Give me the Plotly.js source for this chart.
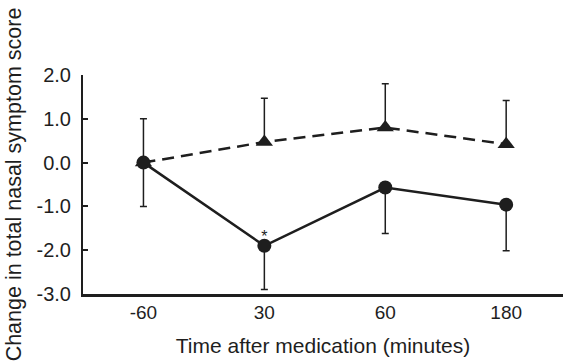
<!DOCTYPE html>
<html>
<head>
<meta charset="utf-8">
<script src="https://cdn.plot.ly/plotly-3.0.1.min.js"></script>
<style>html,body{margin:0;padding:0;background:#fff;}#chart{width:565px;height:361px;}</style>
</head>
<body>
<div id="chart"></div>
<script>
const timeLabels = ["-60", "30", "60", "180"];
const activeValues = [0.0, -1.9, -0.57, -0.96];
const activeErrMinus = [1.0, 1.0, 1.05, 1.05];
const placeboValues = [0.0, 0.47, 0.8, 0.42];
const placeboErrPlus = [1.0, 1.0, 1.0, 1.0];
const yTickVals = [-3, -2, -1, 0, 1, 2];
const yTickText = ["-3.0", "-2.0", "-1.0", "0.0", "1.0", "2.0"];
const starLabels = ["", "*", "", ""];

const ink = "#1e1e1e";
const zeros = timeLabels.map(() => 0);

const traces = [
  {
    x: timeLabels, y: placeboValues, type: "scatter", mode: "lines+markers",
    line: {color: ink, width: 2.5, dash: "12px,7px"},
    marker: {symbol: "triangle-up", size: 15, color: ink},
    error_y: {type: "data", symmetric: false, array: placeboErrPlus, arrayminus: zeros,
              color: ink, thickness: 1.5, width: 3.5},
    showlegend: false, cliponaxis: false
  },
  {
    x: timeLabels, y: activeValues, type: "scatter", mode: "lines+markers",
    line: {color: ink, width: 2.5},
    marker: {symbol: "circle", size: 14, color: ink},
    error_y: {type: "data", symmetric: false, array: zeros, arrayminus: activeErrMinus,
              color: ink, thickness: 1.5, width: 3.5},
    showlegend: false, cliponaxis: false
  },
  {
    x: timeLabels, y: activeValues, type: "scatter", mode: "text",
    text: starLabels, textposition: "top center",
    textfont: {size: 16, color: ink, family: "Liberation Sans, Arial, sans-serif"},
    showlegend: false, cliponaxis: false
  }
];

const layout = {
  width: 565, height: 361,
  margin: {l: 83, r: 2, t: 75, b: 67},
  paper_bgcolor: "#fff", plot_bgcolor: "#fff",
  font: {family: "Liberation Sans, Arial, sans-serif", color: ink},
  xaxis: {
    type: "category", range: [-0.5, 3.47],
    showline: true, linecolor: ink, linewidth: 2.5,
    showgrid: false, zeroline: false, ticks: "",
    tickfont: {size: 19, color: ink},
    title: {text: "Time after medication (minutes)", font: {size: 21, color: ink}, standoff: 16}
  },
  yaxis: {
    range: [-3, 2], tickvals: yTickVals, ticktext: yTickText,
    showline: true, linecolor: ink, linewidth: 2,
    showgrid: false, zeroline: false,
    ticks: "inside", ticklen: 5, tickwidth: 2, tickcolor: ink,
    ticklabelstandoff: 6,
    tickfont: {size: 20, color: ink},
    title: {text: "Change in total nasal symptom score", font: {size: 21.5, color: ink}, standoff: 9}
  }
};

Plotly.newPlot("chart", traces, layout, {staticPlot: true, displayModeBar: false});
</script>
</body>
</html>
